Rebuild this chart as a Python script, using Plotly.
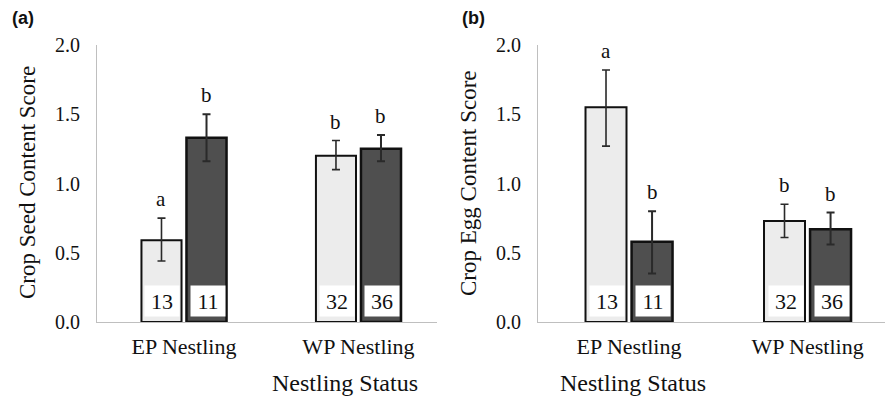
import plotly.graph_objects as go

categories = ["EP Nestling", "WP Nestling"]

# Panel (a): crop seed content score
seed_light = [0.59, 1.20]
seed_light_hi = [0.16, 0.11]
seed_light_lo = [0.15, 0.10]
seed_dark = [1.33, 1.25]
seed_dark_hi = [0.17, 0.10]
seed_dark_lo = [0.17, 0.09]
seed_letters_light = ["a", "b"]
seed_letters_dark = ["b", "b"]

# Panel (b): crop egg content score
egg_light = [1.55, 0.73]
egg_light_hi = [0.27, 0.12]
egg_light_lo = [0.28, 0.12]
egg_dark = [0.58, 0.67]
egg_dark_hi = [0.22, 0.12]
egg_dark_lo = [0.23, 0.11]
egg_letters_light = ["a", "b"]
egg_letters_dark = ["b", "b"]

n_light = [13, 32]
n_dark = [11, 36]

ticks = [0.0, 0.5, 1.0, 1.5, 2.0]

LIGHT = "#ececec"
DARK = "#4f4f4f"
SERIF = "Liberation Serif"

fig = go.Figure()

def add_panel(light, lhi, llo, dark, dhi, dlo, xa, ya):
    for vals, hi, lo, col, ew, lw in [(light, lhi, llo, LIGHT, 1.6, 2), (dark, dhi, dlo, DARK, 2, 2.5)]:
        fig.add_trace(go.Bar(
            x=categories, y=vals, xaxis=xa, yaxis=ya,
            marker=dict(color=col, line=dict(color="#111111", width=lw)),
            error_y=dict(type="data", symmetric=False, array=hi, arrayminus=lo,
                         color="#2a2a2a", thickness=ew, width=4),
            showlegend=False, hoverinfo="skip"))

add_panel(seed_light, seed_light_hi, seed_light_lo, seed_dark, seed_dark_hi, seed_dark_lo, "x", "y")
add_panel(egg_light, egg_light_hi, egg_light_lo, egg_dark, egg_dark_hi, egg_dark_lo, "x2", "y2")

H = 399.0
W = 885.0
ydom = [(H - 322) / H, (H - 45) / H]

axis_common = dict(showgrid=False, zeroline=False, showline=True, linecolor="#bfbfbf", linewidth=1.2,
                   automargin=False)

fig.update_layout(
    width=885, height=399, autosize=False,
    margin=dict(l=0, r=0, t=0, b=0, pad=0, autoexpand=False),
    paper_bgcolor="white", plot_bgcolor="white",
    barmode="group", bargap=0.484, bargroupgap=0.11,
    font=dict(family=SERIF, color="#111111"),
    xaxis=dict(domain=[97 / W, 437 / W], range=[-0.4986, 1.45], anchor="y",
               tickfont=dict(size=22, family=SERIF), ticks="outside", ticklen=4, tickcolor="rgba(0,0,0,0)",
               **axis_common),
    yaxis=dict(domain=ydom, range=[0, 2.0], anchor="x", tickvals=ticks, tickformat=".1f",
               tickfont=dict(size=20, family=SERIF), ticks="outside", ticklen=12, tickcolor="rgba(0,0,0,0)",
               **axis_common),
    xaxis2=dict(domain=[538 / W, 1.0], range=[-0.51, 1.434], anchor="y2",
                tickfont=dict(size=22, family=SERIF), ticks="outside", ticklen=4, tickcolor="rgba(0,0,0,0)",
                **axis_common),
    yaxis2=dict(domain=ydom, range=[0, 2.0], anchor="x2", tickvals=ticks, tickformat=".1f",
                tickfont=dict(size=20, family=SERIF), ticks="outside", ticklen=12, tickcolor="rgba(0,0,0,0)",
                **axis_common),
)

ann = []
off = 0.129
for xa, ya, light, lhi, dark, dhi, ll, dl in [
        ("x", "y", seed_light, seed_light_hi, seed_dark, seed_dark_hi, seed_letters_light, seed_letters_dark),
        ("x2", "y2", egg_light, egg_light_hi, egg_dark, egg_dark_hi, egg_letters_light, egg_letters_dark)]:
    for i in range(len(categories)):
        for sgn, vals, hi, letters, n in [(-1, light, lhi, ll, n_light), (1, dark, dhi, dl, n_dark)]:
            ann.append(dict(x=i + sgn * off, y=vals[i] + hi[i], xref=xa, yref=ya, text=letters[i],
                            showarrow=False, yanchor="middle", yshift=19,
                            font=dict(family=SERIF, size=21, color="#111111")))
            ann.append(dict(x=i + sgn * off, y=0.15, xref=xa, yref=ya, text=str(n[i]),
                            showarrow=False, xanchor="center", yanchor="middle", xshift=1,
                            bgcolor="white", width=32, height=28,
                            font=dict(family=SERIF, size=22, color="#111111")))

# axis titles and panel labels
ann += [
    dict(x=270 / W, y=(H - 383) / H, xref="paper", yref="paper", text="Nestling Status", showarrow=False,
         font=dict(family=SERIF, size=24, color="#111111"), yanchor="middle"),
    dict(x=708 / W, y=(H - 383) / H, xref="paper", yref="paper", text="Nestling Status", showarrow=False,
         font=dict(family=SERIF, size=24, color="#111111"), yanchor="middle"),
    dict(x=27 / W, y=(H - 183) / H, xref="paper", yref="paper", text="Crop Seed Content Score", showarrow=False,
         textangle=-90, font=dict(family=SERIF, size=23, color="#111111"), xanchor="center", yanchor="middle"),
    dict(x=468 / W, y=(H - 183) / H, xref="paper", yref="paper", text="Crop Egg Content Score", showarrow=False,
         textangle=-90, font=dict(family=SERIF, size=23, color="#111111"), xanchor="center", yanchor="middle"),
    dict(x=10 / W, y=(H - 18) / H, xref="paper", yref="paper", text="<b>(a)</b>", showarrow=False,
         xanchor="left", yanchor="middle", font=dict(family="Liberation Sans", size=18, color="#111111")),
    dict(x=460 / W, y=(H - 18) / H, xref="paper", yref="paper", text="<b>(b)</b>", showarrow=False,
         xanchor="left", yanchor="middle", font=dict(family="Liberation Sans", size=18, color="#111111")),
]
fig.update_layout(annotations=ann)

fig.write_html("out.html")
